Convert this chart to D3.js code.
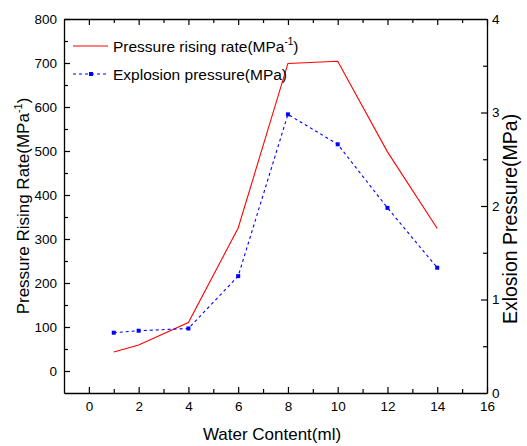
<!DOCTYPE html>
<html>
<head>
<meta charset="utf-8">
<script src="https://cdn.jsdelivr.net/npm/d3@7"></script>
<style>
  body { margin: 0; background: #fff; }
  svg { font-family: "Liberation Sans", Arial, sans-serif; }
</style>
</head>
<body>
<div id="graph"></div>
<script>
const waterContent = [1, 2, 4, 6, 8, 10, 12, 14];
const risingRate = [43, 59, 110, 325, 699, 704, 498, 324];
const explosionPressure = [0.645, 0.666, 0.69, 1.25, 2.98, 2.66, 1.98, 1.34];
const xTicks = [0, 2, 4, 6, 8, 10, 12, 14, 16];
const yLeftTicks = [0, 100, 200, 300, 400, 500, 600, 700, 800];
const yRightTicks = [0, 1, 2, 3, 4];

const width = 527, height = 446;
const margin = { left: 64, right: 40, top: 19, bottom: 53 };
const plotW = width - margin.left - margin.right;
const plotH = height - margin.top - margin.bottom;
const tickFont = 13.5;

let svg = d3.select('div#graph').append('svg')
    .attr('width', width)
    .attr('height', height);

let g = svg.append('g')
    .attr('transform', `translate(${ margin.left }, ${ margin.top })`);

let x = d3.scaleLinear().domain([-1, 16]).range([0, plotW]);
let yL = d3.scaleLinear().domain([-50, 800]).range([plotH, 0]);
let yR = d3.scaleLinear().domain([0, 4]).range([plotH, 0]);

function styleAxis(sel) {
    sel.select('.domain').attr('stroke', '#000').attr('stroke-width', 1.3);
    sel.selectAll('.tick line').attr('stroke', '#000').attr('stroke-width', 1.2);
    sel.selectAll('.tick text').attr('fill', '#000').style('font-size', tickFont + 'px');
}

function minorTicks(sel) {
    sel.select('.domain').remove();
    sel.selectAll('line').attr('stroke', '#000').attr('stroke-width', 1.2);
}

// minor tick positions
const xMinor = [1, 3, 5, 7, 9, 11, 13, 15];
const yLMinor = [50, 150, 250, 350, 450, 550, 650, 750];
const yRMinor = [0.5, 1.5, 2.5, 3.5];

// bottom
let bx = g.append('g').attr('transform', `translate(0, ${ plotH })`)
    .call(d3.axisBottom(x).tickValues(xTicks).tickSize(-6).tickPadding(8).tickSizeOuter(0));
styleAxis(bx);
g.append('g').attr('transform', `translate(0, ${ plotH })`)
    .call(d3.axisBottom(x).tickValues(xMinor).tickSize(-4).tickFormat('').tickSizeOuter(0))
    .call(minorTicks);

// top
let tx = g.append('g')
    .call(d3.axisTop(x).tickValues(xTicks).tickSize(-6).tickFormat('').tickSizeOuter(0));
styleAxis(tx);
g.append('g')
    .call(d3.axisTop(x).tickValues(xMinor).tickSize(-4).tickFormat('').tickSizeOuter(0))
    .call(minorTicks);

// left
let ly = g.append('g')
    .call(d3.axisLeft(yL).tickValues(yLeftTicks).tickSize(-6).tickPadding(7).tickSizeOuter(0));
styleAxis(ly);
g.append('g')
    .call(d3.axisLeft(yL).tickValues(yLMinor).tickSize(-4).tickFormat('').tickSizeOuter(0))
    .call(minorTicks);

// right
let ry = g.append('g').attr('transform', `translate(${ plotW }, 0)`)
    .call(d3.axisRight(yR).tickValues(yRightTicks).tickFormat(d3.format('d')).tickSize(-6).tickPadding(5).tickSizeOuter(0));
styleAxis(ry);
g.append('g').attr('transform', `translate(${ plotW }, 0)`)
    .call(d3.axisRight(yR).tickValues(yRMinor).tickSize(-4).tickFormat('').tickSizeOuter(0))
    .call(minorTicks);
ry.selectAll('.tick').filter(d => d === 0 || d === 4).select('line').remove();

// series
const redLine = d3.line().x((d, i) => x(waterContent[i])).y(d => yL(d));
const blueLine = d3.line().x((d, i) => x(waterContent[i])).y(d => yR(d));

g.append('path').datum(risingRate)
    .attr('d', redLine)
    .attr('fill', 'none')
    .attr('stroke', '#ff0000')
    .attr('stroke-width', 1.1);

g.append('path').datum(explosionPressure)
    .attr('d', blueLine)
    .attr('fill', 'none')
    .attr('stroke', '#0000ff')
    .attr('stroke-width', 1.1)
    .attr('stroke-dasharray', '3,3');

g.selectAll('rect.pt').data(explosionPressure).enter().append('rect')
    .attr('class', 'pt')
    .attr('x', (d, i) => x(waterContent[i]) - 2)
    .attr('y', d => yR(d) - 2)
    .attr('width', 4).attr('height', 4)
    .attr('fill', '#0000ff');

// legend
let legend = svg.append('g');
legend.append('line').attr('x1', 73).attr('x2', 108).attr('y1', 46).attr('y2', 46)
    .attr('stroke', '#ff0000').attr('stroke-width', 1.1);
let t1 = legend.append('text').attr('x', 113).attr('y', 52).style('font-size', '15.5px');
t1.append('tspan').text('Pressure rising rate(MPa');
t1.append('tspan').attr('dy', -7).style('font-size', '10px').text('-1');
t1.append('tspan').attr('dy', 7).text(')');

legend.append('line').attr('x1', 73).attr('x2', 108).attr('y1', 74).attr('y2', 74)
    .attr('stroke', '#0000ff').attr('stroke-width', 1.1).attr('stroke-dasharray', '3,3');
legend.append('rect').attr('x', 89).attr('y', 72).attr('width', 4).attr('height', 4).attr('fill', '#0000ff');
legend.append('text').attr('x', 113).attr('y', 80).style('font-size', '15.5px').text('Explosion pressure(MPa)');

// axis titles
svg.append('text').attr('x', 272).attr('y', 440).attr('text-anchor', 'middle')
    .style('font-size', '17px').text('Water Content(ml)');

let lt = svg.append('text')
    .attr('transform', `translate(29, 206) rotate(-90)`)
    .attr('text-anchor', 'middle')
    .style('font-size', '17px');
lt.append('tspan').text('Pressure Rising Rate(MPa');
lt.append('tspan').attr('dy', -7).style('font-size', '11px').text('-1');
lt.append('tspan').attr('dy', 7).text(')');

svg.append('text')
    .attr('transform', `translate(517, 219) rotate(-90)`)
    .attr('text-anchor', 'middle')
    .style('font-size', '19.5px').text('Exlosion Pressure(MPa)');
</script>
</body>
</html>
